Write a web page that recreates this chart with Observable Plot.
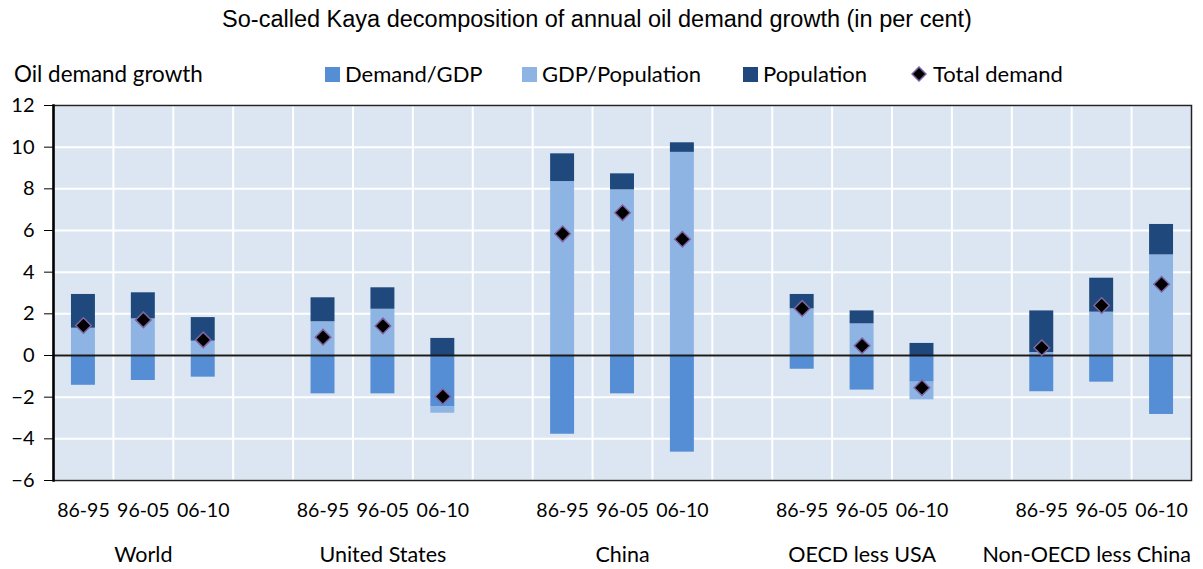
<!DOCTYPE html>
<html><head><meta charset="utf-8">
<script src="https://cdn.jsdelivr.net/npm/d3@7"></script>
<script src="https://cdn.jsdelivr.net/npm/@observablehq/plot@0.6"></script>
<style>
body{margin:0;background:#fff;}
#wrap{position:relative;width:1203px;height:569px;font-family:Lato,"Open Sans",sans-serif;color:#000;overflow:hidden;}
#title{position:absolute;left:0;top:5px;width:1194px;text-align:center;font-family:"Liberation Sans",Arial,sans-serif;font-size:23.5px;line-height:28px;}
#ylab{position:absolute;left:14px;top:61px;font-size:22.4px;line-height:26px;white-space:nowrap;}
.leg{position:absolute;top:61px;font-size:22px;line-height:26px;white-space:nowrap;}
.sw{position:absolute;width:15px;height:15px;top:67px;}
#chart{position:absolute;left:0;top:85px;}
</style></head>
<body>
<div id="wrap">
  <div id="title">So-called Kaya decomposition of annual oil demand growth (in per cent)</div>
  <div id="ylab">Oil demand growth</div>
  <div id="chart"></div>
</div>
<script>
const groups = ["World", "United States", "China", "OECD less USA", "Non-OECD less China"];
const periods = ["86-95", "96-05", "06-10"];
const seriesNames = ["Demand/GDP", "GDP/Population", "Population"];
const seriesColors = ["#558ed5", "#8eb4e3", "#1f497d"];
const totalName = "Total demand";
// values per bar, in order of groups x periods
const demandGDP  = [-1.43, -1.20, -1.04,  -1.84, -1.84, -2.45,  -3.78, -1.84, -4.64,  -0.66, -1.66, -1.28,  -1.74, -1.28, -2.83];
const gdpPop     = [ 1.31,  1.76,  0.69,   1.62,  2.22, -0.32,   8.35,  7.95,  9.75,   2.24,  1.52, -0.85,   0.14,  2.08,  4.83];
const population = [ 1.62,  1.25,  1.13,   1.15,  1.03,  0.82,   1.33,  0.77,  0.46,   0.69,  0.62,  0.58,   2.00,  1.63,  1.46];
const totalDemand= [ 1.44,  1.71,  0.75,   0.88,  1.42, -1.97,   5.84,  6.85,  5.58,   2.26,  0.47, -1.55,   0.37,  2.40,  3.42];
const yTicks = [-6, -4, -2, 0, 2, 4, 6, 8, 10, 12];

// category keys, with blank separator slots between groups
const cats = [];
const bars = [];
groups.forEach((g, gi) => {
  periods.forEach((p, pi) => {
    const key = g + "|" + p;
    cats.push(key);
    bars.push({key, group: g, period: p, i: gi * 3 + pi});
  });
  if (gi < groups.length - 1) cats.push("gap" + gi);
});
const series = [demandGDP, gdpPop, population];
const stacked = [];
bars.forEach(b => seriesNames.forEach((s, si) => stacked.push({key: b.key, series: s, value: series[si][b.i]})));
const totals = bars.map(b => ({key: b.key, value: totalDemand[b.i]}));
const groupLabels = groups.map(g => ({key: g + "|" + periods[1], label: g}));

const W = 1203, H = 484, mL = 53, mR = 12, mT = 20, mB = 89;
const step = (W - mL - mR) / cats.length;

const chart = Plot.plot({
  width: W, height: H,
  marginLeft: mL, marginRight: mR, marginTop: mT, marginBottom: mB,
  style: {fontFamily: "Lato, 'Open Sans', sans-serif", color: "#000", background: "transparent"},
  x: {type: "band", domain: cats, paddingInner: 0.6, paddingOuter: 0.3, align: 0.5, round: false, axis: null},
  y: {domain: [-6, 12], axis: null},
  color: {domain: seriesNames, range: seriesColors},
  marks: [
    Plot.frame({fill: "#dce6f2", stroke: null}),
    Plot.gridY(yTicks, {stroke: "#fff", strokeOpacity: 1, strokeWidth: 2}),
    Plot.ruleX(cats.slice(1), {dx: -step / 2, stroke: "#fff", strokeOpacity: 1, strokeWidth: 2}),
    Plot.barY(stacked, {x: "key", y: "value", fill: "series"}),
    Plot.ruleY([0], {stroke: "#1a1a1a", strokeWidth: 2}),
    Plot.dot(totals, {x: "key", y: "value", symbol: "diamond2", r: 7, fill: "#000", stroke: "#8064a2", strokeWidth: 1.5}),
    Plot.frame({stroke: "#222", strokeWidth: 1.5}),
    Plot.frame({anchor: "left", stroke: "#000", strokeWidth: 2.5}),
    Plot.axisY(yTicks, {tickSize: 9, tickPadding: 10, fontSize: 20, label: null, stroke: "#000"}),
    Plot.axisX(cats.filter(c => !c.startsWith("gap")), {tickSize: 0, tickPadding: 23, fontSize: 19.5, label: null, tickFormat: d => d.split("|")[1]}),
    Plot.text(groupLabels.slice(0, -1), {x: "key", text: "label", frameAnchor: "bottom", dy: 75, fontSize: 21.5, lineAnchor: "middle", fill: "#000"}),
    Plot.text(groupLabels.slice(-1), {x: "key", text: "label", frameAnchor: "bottom", dy: 75, dx: -15, fontSize: 21.5, lineAnchor: "middle", fill: "#000"})
  ]
});
document.getElementById("chart").appendChild(chart);

// legend
const wrap = document.getElementById("wrap");
const legX = [325, 522, 743];
seriesNames.forEach((s, i) => {
  const sw = document.createElement("div");
  sw.className = "sw"; sw.style.left = legX[i] + "px"; sw.style.background = seriesColors[i];
  wrap.appendChild(sw);
  const t = document.createElement("div");
  t.className = "leg"; t.style.left = (legX[i] + 20) + "px"; t.textContent = s;
  wrap.appendChild(t);
});
const dm = document.createElementNS("http://www.w3.org/2000/svg", "svg");
dm.setAttribute("width", 16); dm.setAttribute("height", 16);
dm.style.position = "absolute"; dm.style.left = "911px"; dm.style.top = "66px";
dm.innerHTML = '<path d="M8,1 L15,8 L8,15 L1,8 Z" fill="#000" stroke="#8064a2" stroke-width="1.5"/>';
wrap.appendChild(dm);
const tt = document.createElement("div");
tt.className = "leg"; tt.style.left = "933px"; tt.textContent = totalName;
wrap.appendChild(tt);
</script>
</body></html>
